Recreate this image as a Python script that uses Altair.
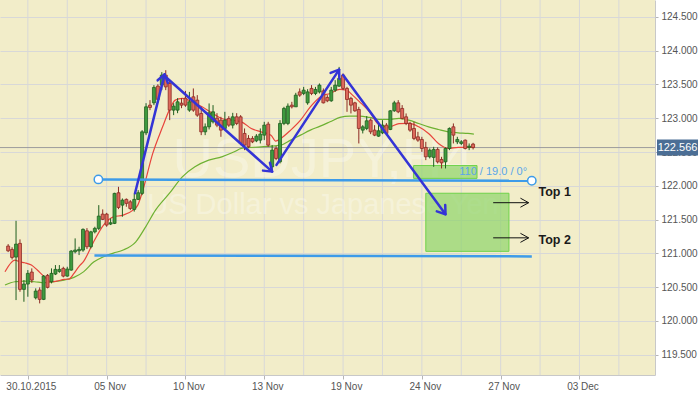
import math
import altair as alt
import pandas as pd

# ---------------- data (USDJPY, 4-hour bars) ----------------
opens = [121.108, 121.058, 120.945, 121.148, 120.467, 120.546, 120.723, 120.343, 120.457, 120.319,
         120.674, 120.580, 120.694, 120.733, 120.778, 120.664, 120.753, 121.024, 121.038, 121.049,
         121.334, 121.098, 121.319, 121.370, 121.581, 121.581, 121.434, 121.444, 121.897, 121.714,
         121.799, 121.763, 121.651, 121.799, 121.888, 122.784, 123.194, 123.228, 123.475, 123.490,
         123.638, 123.515, 123.120, 123.120, 123.223, 123.297, 123.120, 123.317, 123.268, 123.071,
         122.799, 122.873, 122.947, 123.001, 122.972, 122.849, 122.997, 122.898, 123.021, 123.021,
         122.775, 122.701, 122.701, 122.666, 122.676, 122.750, 122.913, 122.281, 122.553, 122.355,
         122.923, 122.923, 123.194, 123.169, 123.390, 123.367, 123.228, 123.441, 123.367, 123.390,
         123.405, 123.308, 123.258, 123.416, 123.475, 123.638, 123.441, 123.293, 123.228, 123.130,
         122.824, 122.849, 122.972, 122.824, 122.735, 122.784, 122.898, 122.834, 123.110, 123.228,
         123.145, 123.021, 122.923, 122.849, 122.725, 122.686, 122.568, 122.429, 122.420, 122.538,
         122.390, 122.355, 122.553, 122.873, 122.651, 122.627, 122.676, 122.568, 122.617]
highs = [121.137, 121.090, 121.482, 121.207, 120.605, 120.753, 120.778, 120.482, 120.497, 120.679,
         120.694, 120.778, 120.827, 120.827, 120.802, 120.802, 121.049, 121.222, 121.098, 121.370,
         121.374, 121.334, 121.394, 121.714, 121.651, 121.600, 121.518, 121.897, 121.985, 121.813,
         121.813, 121.788, 121.888, 121.936, 122.824, 123.223, 123.268, 123.490, 123.504, 123.682,
         123.711, 123.564, 123.223, 123.297, 123.297, 123.405, 123.390, 123.441, 123.342, 123.169,
         122.923, 123.219, 123.194, 123.075, 123.021, 123.095, 123.031, 123.080, 123.075, 123.046,
         122.849, 122.750, 122.735, 122.765, 122.849, 122.947, 122.947, 122.602, 122.587, 122.972,
         123.169, 123.219, 123.243, 123.376, 123.441, 123.464, 123.430, 123.490, 123.464, 123.515,
         123.441, 123.342, 123.464, 123.564, 123.760, 123.663, 123.465, 123.317, 123.243, 123.169,
         122.898, 123.031, 122.997, 122.898, 122.923, 122.972, 122.928, 123.120, 123.258, 123.268,
         123.194, 123.071, 122.947, 122.947, 122.799, 122.725, 122.651, 122.553, 122.577, 122.568,
         122.429, 122.568, 122.864, 122.923, 122.725, 122.676, 122.686, 122.627, 122.636]
lows = [121.019, 120.910, 120.309, 120.432, 120.284, 120.358, 120.565, 120.319, 120.260, 120.309,
        120.482, 120.556, 120.679, 120.713, 120.645, 120.654, 120.743, 121.000, 120.975, 121.024,
        121.064, 121.074, 121.296, 121.345, 121.493, 121.394, 121.419, 121.434, 121.655, 121.542,
        121.690, 121.640, 121.618, 121.788, 121.862, 122.750, 123.120, 123.194, 123.268, 123.416,
        123.416, 122.972, 123.046, 123.075, 123.149, 123.169, 123.095, 123.095, 123.021, 122.750,
        122.750, 122.834, 122.923, 122.868, 122.725, 122.824, 122.873, 122.849, 122.898, 122.602,
        122.528, 122.557, 122.632, 122.646, 122.627, 122.676, 122.577, 122.232, 122.380, 122.331,
        122.898, 122.898, 123.145, 123.169, 123.317, 123.342, 123.200, 123.342, 123.342, 123.367,
        123.219, 123.238, 123.243, 123.391, 123.465, 123.416, 123.095, 123.071, 123.095, 122.627,
        122.775, 122.824, 122.765, 122.735, 122.725, 122.765, 122.750, 122.824, 123.095, 123.075,
        122.982, 122.898, 122.799, 122.676, 122.651, 122.503, 122.380, 122.405, 122.281, 122.331,
        122.257, 122.257, 122.528, 122.627, 122.617, 122.602, 122.538, 122.528, 122.538]
closes = [121.038, 120.940, 121.137, 120.467, 120.546, 120.704, 120.605, 120.442, 120.319, 120.664,
          120.497, 120.704, 120.763, 120.763, 120.664, 120.768, 121.034, 121.049, 121.059, 121.355,
          121.098, 121.319, 121.370, 121.552, 121.503, 121.419, 121.453, 121.888, 121.680, 121.788,
          121.740, 121.665, 121.799, 121.897, 122.799, 123.169, 123.160, 123.456, 123.278, 123.638,
          123.464, 123.120, 123.179, 123.243, 123.194, 123.194, 123.243, 123.120, 123.046, 122.799,
          122.873, 123.080, 123.095, 122.898, 122.824, 122.972, 122.898, 123.021, 122.923, 122.627,
          122.602, 122.577, 122.651, 122.735, 122.765, 122.898, 122.602, 122.528, 122.405, 122.923,
          123.145, 123.179, 123.169, 123.342, 123.342, 123.416, 123.390, 123.367, 123.426, 123.490,
          123.228, 123.258, 123.416, 123.490, 123.589, 123.441, 123.278, 123.194, 123.110, 122.849,
          122.873, 122.962, 122.799, 122.750, 122.814, 122.898, 122.775, 123.110, 123.228, 123.095,
          122.997, 122.923, 122.824, 122.701, 122.676, 122.553, 122.429, 122.528, 122.538, 122.355,
          122.340, 122.553, 122.849, 122.750, 122.686, 122.651, 122.553, 122.587, 122.566]

# moving averages (bar index, price)
ma_fast_i = [-0.8, 1.7, 2.9, 4.2, 5.9, 7.4, 9.2, 10.9, 12.4, 14.2, 15.4, 16.7, 17.9, 19.2, 21.7,
             24.2, 26.7, 29.2, 31.7, 32.9, 34.2, 36.7, 39.2, 40.9, 42.4, 44.2, 46.7, 49.2, 51.7,
             54.2, 56.7, 59.2, 61.7, 64.2, 66.7, 67.9, 69.2, 71.7, 74.2, 76.7, 79.2, 81.7, 84.2,
             85.9, 87.4, 89.2, 91.7, 94.2, 96.7, 99.2, 101.7, 104.2, 106.7, 109.2, 111.7, 114.2,
             116.7, 118.4]
ma_fast_p = [120.728, 120.901, 120.876, 120.861, 120.827, 120.753, 120.654, 120.580, 120.590,
             120.615, 120.620, 120.704, 120.802, 120.886, 121.171, 121.419, 121.541, 121.566,
             121.640, 121.714, 121.936, 122.479, 122.873, 123.120, 123.268, 123.293, 123.243,
             123.169, 123.080, 122.997, 122.972, 122.947, 122.849, 122.799, 122.750, 122.661,
             122.701, 122.824, 122.972, 123.169, 123.316, 123.367, 123.426, 123.416, 123.342,
             123.243, 123.095, 122.898, 122.870, 122.920, 122.923, 122.873, 122.775, 122.627,
             122.553, 122.568, 122.568, 122.577]
ma_slow_i = [-0.8, 1.7, 4.2, 6.7, 9.2, 11.7, 14.2, 16.7, 19.2, 21.7, 24.2, 26.7, 29.2, 32.4, 34.9,
             37.4, 40.9, 44.2, 47.4, 50.9, 54.2, 57.4, 59.2, 64.2, 69.2, 71.7, 74.2, 76.7, 79.2,
             81.7, 84.2, 86.7, 89.2, 91.7, 94.2, 96.7, 99.2, 101.7, 104.2, 106.7, 109.2, 111.7,
             114.2, 116.7, 118.2]
ma_slow_p = [120.531, 120.580, 120.590, 120.580, 120.565, 120.580, 120.605, 120.645, 120.730,
             120.871, 120.950, 121.004, 121.049, 121.171, 121.393, 121.640, 121.887, 122.133,
             122.281, 122.380, 122.429, 122.503, 122.553, 122.577, 122.602, 122.676, 122.750,
             122.824, 122.883, 122.947, 123.012, 123.031, 123.031, 123.012, 122.982, 122.982,
             122.997, 122.972, 122.923, 122.873, 122.834, 122.799, 122.784, 122.775, 122.765]

tick_idx = [5, 25, 45, 65, 85, 105, 125, 145]
tick_lbl = ["30.10.2015", "05 Nov", "10 Nov", "13 Nov", "19 Nov", "24 Nov", "27 Nov", "03 Dec"]
grid_idx = [5, 15, 25, 35, 45, 55, 65, 75, 85, 95, 105, 115, 125, 135, 145, 155]
price_ticks = [119.5, 120.0, 120.5, 121.0, 121.5, 122.0, 122.5, 123.0, 123.5, 124.0, 124.5]
last_price = 122.566

# drawn annotations (bar index, price)
trend_x1 = [32.2, 40.0, 68.1, 85.0]
trend_y1 = [121.89, 123.61, 122.31, 123.64]
trend_x2 = [39.7, 67.0, 84.0, 111.0]
trend_y2 = [123.65, 122.21, 123.72, 121.58]

level_x1 = [22.9, 21.9]
level_y1 = [122.095, 120.970]
level_x2 = [132.9, 132.9]
level_y2 = [122.075, 120.955]

zone_x1 = [102.9, 106.0]
zone_x2 = [119.0, 127.1]
zone_y1 = [122.11, 121.03]
zone_y2 = [122.30, 121.89]

target_x1 = [123.1, 123.1]
target_x2 = [132.1, 132.1]
target_y = [121.75, 121.23]
target_lbl = ["Top 1", "Top 2"]
target_lbl_x = [134.6, 134.6]
target_lbl_y = [121.91, 121.20]

angle_text = ["110 / 19.0 / 0°"]
angle_text_x = [131.7]
angle_text_y = [122.20]

watermark = ["USDJPY,H4", "US Dollar vs Japanese Yen"]

# ---------------- chart ----------------
W, H = 655, 375
X_DOMAIN = [-0.8, 162.9]
Y_DOMAIN = [119.2, 124.75]
xs = alt.Scale(domain=X_DOMAIN, nice=False, zero=False)
ys = alt.Scale(domain=Y_DOMAIN, nice=False, zero=False)
kx = W / (X_DOMAIN[1] - X_DOMAIN[0])
ky = H / (Y_DOMAIN[1] - Y_DOMAIN[0])

FONT = "Liberation Sans"

candles = pd.DataFrame({"i": list(range(len(opens))), "o": opens, "h": highs, "l": lows, "c": closes})
candles["dir"] = ["up" if c >= o else "down" for o, c in zip(opens, closes)]

label_expr = " : ".join(f"datum.value == {v} ? '{t}'" for v, t in zip(tick_idx, tick_lbl)) + " : ''"

XA = alt.Axis(values=tick_idx, labelExpr=label_expr, grid=False, title=None,
              tickSize=4, tickColor="#b5b5b5", domainColor="#c8c8c8",
              labelColor="#555555", labelFontSize=10, labelFont=FONT, labelOffset=3,
              labelPadding=2, labelFlush=False, labelOverlap=False)
YA = alt.Axis(orient="right", values=price_ticks, format=".3f", title=None,
              grid=True, gridColor="#d8d8d8", tickSize=3, tickColor="#b5b5b5",
              domainColor="#c8c8c8", labelColor="#555555", labelFontSize=10,
              labelFont=FONT, labelPadding=3, labelFlush=False, labelOverlap=False)


def X(field):
    return alt.X(field, scale=xs, axis=XA)


def Y(field):
    return alt.Y(field, scale=ys, axis=YA)


dir_fill = alt.Scale(domain=["up", "down"], range=["#3f9b3f", "#de6a5c"])
dir_line = alt.Scale(domain=["up", "down"], range=["#1f5f1f", "#8c2a22"])

xgrid = alt.Chart(pd.DataFrame({"g": grid_idx})).mark_rule(color="#d8d8d8", strokeWidth=1).encode(
    x=X("g:Q"))

wm = alt.Chart(pd.DataFrame({"t": watermark, "fs": [56, 29], "yy": [177, 214]})).mark_text(
    font=FONT, color="#ffffff", opacity=0.3, align="center", baseline="alphabetic").encode(
    text="t:N", x=alt.value(323), y=alt.Y("yy:Q", scale=None),
    size=alt.Size("fs:Q", scale=None, legend=None))

price_line = alt.Chart(pd.DataFrame({"p": [last_price]})).mark_rule(color="#9c9c9c", strokeWidth=1).encode(
    y=Y("p:Q"))

zones = alt.Chart(pd.DataFrame({"x1": zone_x1, "x2": zone_x2, "y1": zone_y1, "y2": zone_y2})).mark_rect(
    fill="#8fd46b", fillOpacity=0.7, stroke="#6fd24a", strokeWidth=1).encode(
    x=X("x1:Q"), x2="x2:Q", y=Y("y1:Q"), y2="y2:Q")

ma_slow = alt.Chart(pd.DataFrame({"i": ma_slow_i, "p": ma_slow_p})).mark_line(
    color="#6db132", strokeWidth=1.2, interpolate="monotone").encode(x=X("i:Q"), y=Y("p:Q"))
ma_fast = alt.Chart(pd.DataFrame({"i": ma_fast_i, "p": ma_fast_p})).mark_line(
    color="#e8443c", strokeWidth=1.2, interpolate="monotone").encode(x=X("i:Q"), y=Y("p:Q"))

wicks = alt.Chart(candles).mark_rule(strokeWidth=1).encode(
    x=X("i:Q"), y=Y("l:Q"), y2="h:Q",
    color=alt.Color("dir:N", scale=dir_line, legend=None))
bodies = alt.Chart(candles).mark_bar(size=3, strokeWidth=0.8).encode(
    x=X("i:Q"), y=Y("o:Q"), y2="c:Q",
    fill=alt.Fill("dir:N", scale=dir_fill, legend=None),
    stroke=alt.Stroke("dir:N", scale=dir_line, legend=None))

levels_df = pd.DataFrame({"x1": level_x1, "y1": level_y1, "x2": level_x2, "y2": level_y2})
levels = alt.Chart(levels_df).mark_rule(color="#3d9be9", strokeWidth=2.5).encode(
    x=X("x1:Q"), y=Y("y1:Q"), x2="x2:Q", y2="y2:Q")
handles = alt.Chart(pd.DataFrame({"x": [level_x1[0], level_x2[0]], "y": [level_y1[0], level_y2[0]]})).mark_point(
    shape="circle", filled=True, fill="#ffffff", stroke="#3d9be9", strokeWidth=1.5, size=70, opacity=1).encode(
    x=X("x:Q"), y=Y("y:Q"))

trend_df = pd.DataFrame({"x1": trend_x1, "y1": trend_y1, "x2": trend_x2, "y2": trend_y2})
trend_df["ang"] = [
    (math.degrees(math.atan2((b - a) * kx, (d - c) * ky)) + 360) % 360
    for a, b, c, d in zip(trend_x1, trend_x2, trend_y1, trend_y2)
]
trends = alt.Chart(trend_df).mark_rule(color="#3434d6", strokeWidth=2.5, strokeCap="round").encode(
    x=X("x1:Q"), y=Y("y1:Q"), x2="x2:Q", y2="y2:Q")
heads = alt.Chart(trend_df).mark_point(
    shape="M-0.7,1L0,0L0.7,1", filled=False, color="#3434d6", strokeWidth=2.5, size=225,
    opacity=1, strokeCap="round", strokeJoin="round").encode(
    x=X("x2:Q"), y=Y("y2:Q"), angle=alt.Angle("ang:Q", scale=None))

tgt_df = pd.DataFrame({"x1": target_x1, "x2": target_x2, "y": target_y})
tgt_lines = alt.Chart(tgt_df).mark_rule(color="#111111", strokeWidth=1).encode(
    x=X("x1:Q"), x2="x2:Q", y=Y("y:Q"))
tgt_heads = alt.Chart(tgt_df).mark_point(
    shape="M-0.55,1L0,0L0.55,1", filled=False, color="#111111", strokeWidth=1, size=270,
    opacity=1, angle=90).encode(x=X("x2:Q"), y=Y("y:Q"))
tgt_text = alt.Chart(pd.DataFrame({"x": target_lbl_x, "y": target_lbl_y, "t": target_lbl})).mark_text(
    font=FONT, fontSize=12.5, fontWeight="bold", color="#1a1a1a", align="left", baseline="middle").encode(
    x=X("x:Q"), y=Y("y:Q"), text="t:N")

ang_text = alt.Chart(pd.DataFrame({"x": angle_text_x, "y": angle_text_y, "t": angle_text})).mark_text(
    font=FONT, fontSize=11, color="#5aa6ea", align="right", baseline="middle").encode(
    x=X("x:Q"), y=Y("y:Q"), text="t:N")

tag_df = pd.DataFrame({"p": [last_price], "lo": [last_price - 0.118], "hi": [last_price + 0.118],
                       "t": [f"{last_price:.3f}"]})
tag_box = alt.Chart(tag_df).mark_rect(fill="#4b6e95", clip=False).encode(
    x=alt.value(657), x2=alt.value(698), y=Y("hi:Q"), y2="lo:Q")
tag_text = alt.Chart(tag_df).mark_text(font=FONT, fontSize=11, color="#ffffff", align="center",
                                       baseline="middle", clip=False).encode(
    x=alt.value(677.5), y=Y("p:Q"), text="t:N")

chart = alt.layer(
    xgrid, wm, price_line, zones, ma_slow, ma_fast, wicks, bodies,
    levels, handles, trends, heads, tgt_lines, tgt_heads, tgt_text, ang_text, tag_box, tag_text
).properties(
    width=W, height=H,
    padding={"left": 0, "top": 0, "right": 45, "bottom": 19},
    autosize=alt.AutoSizeParams(type="none"),
    background="#ffffff",
).configure_view(fill="#f2edc9", stroke=None)

chart.save("out.html", embed_options={"renderer": "svg", "actions": False})
